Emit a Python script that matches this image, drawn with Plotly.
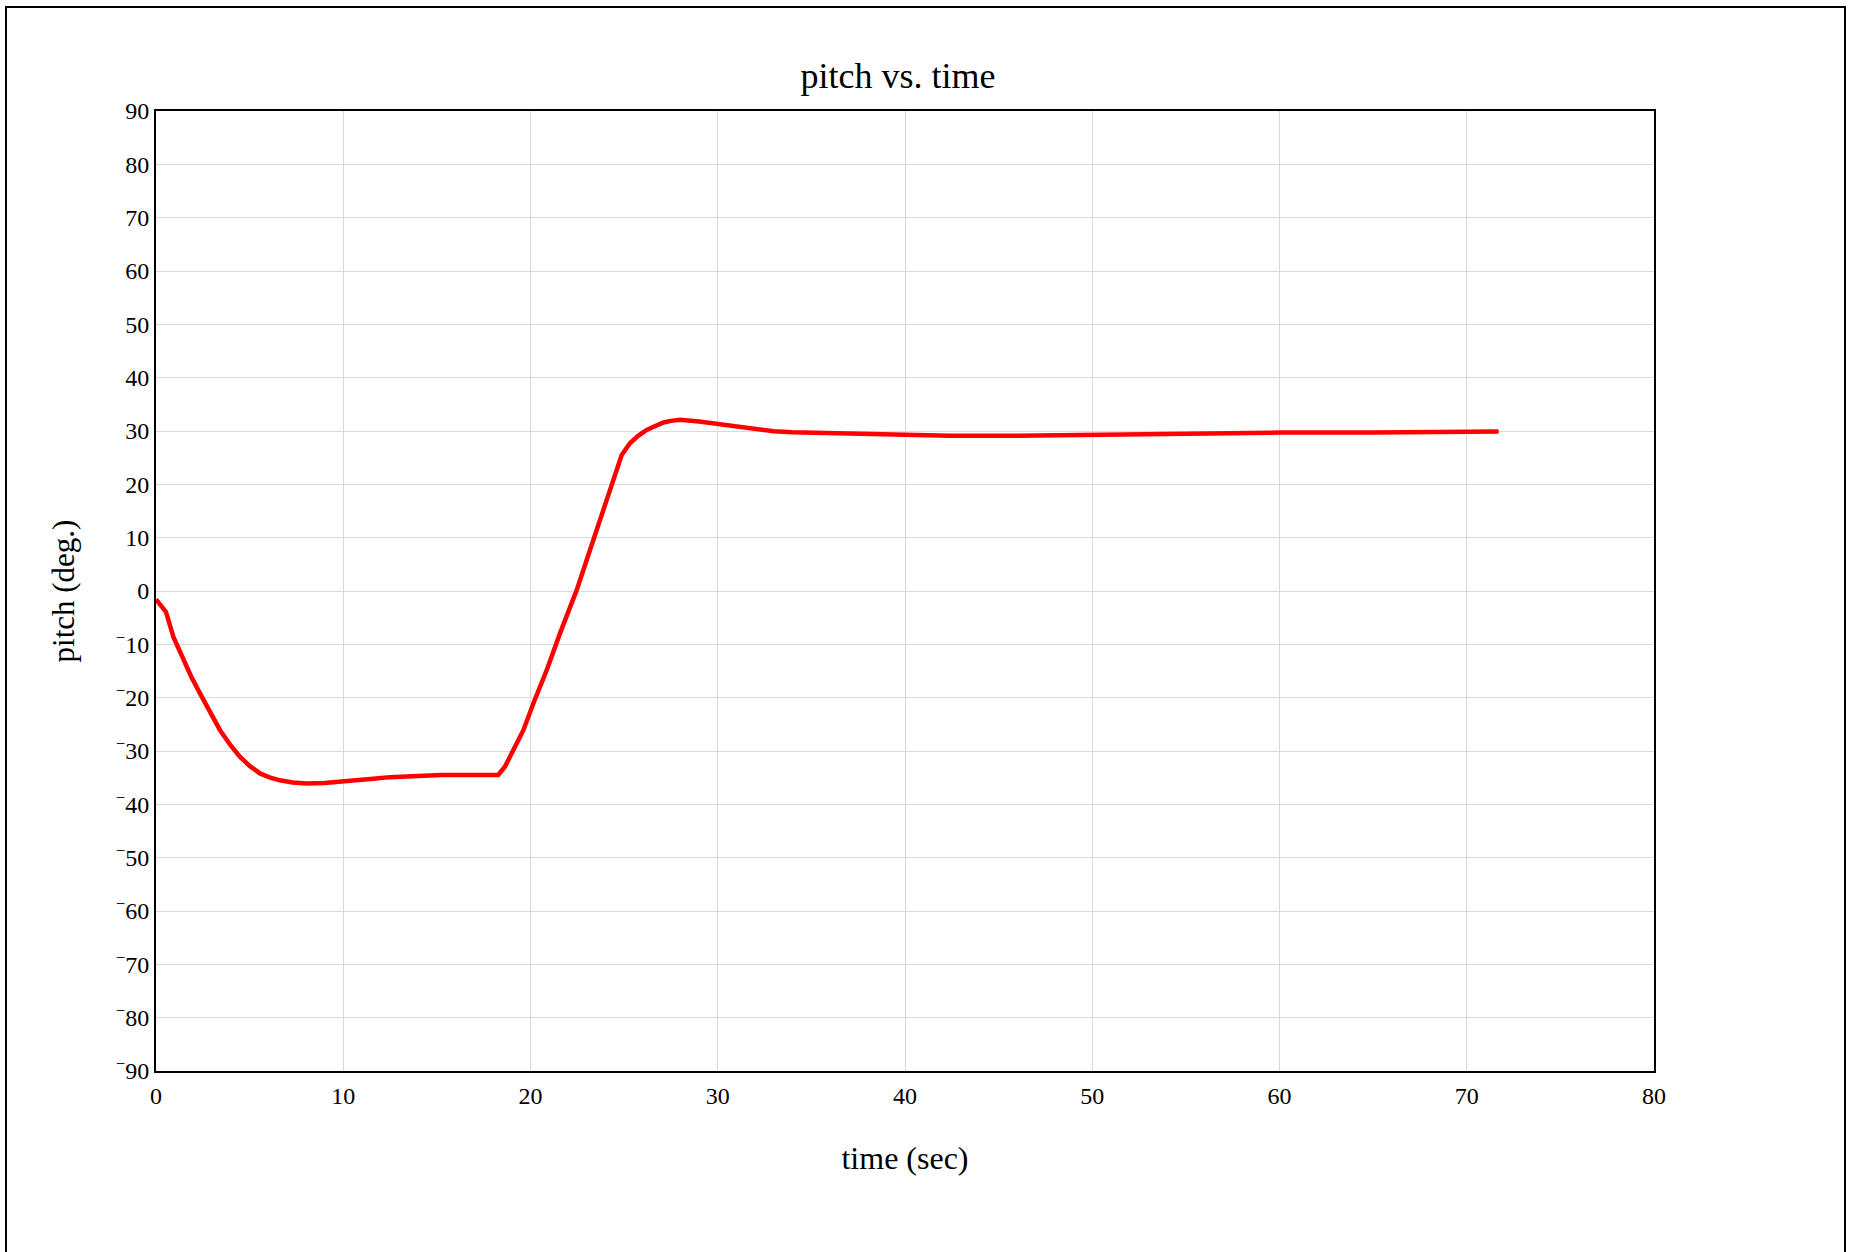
import plotly.graph_objects as go

# time (sec) and pitch (deg.)
time_sec = [0.0, 0.53, 0.93, 1.46, 1.9, 2.35, 2.9, 3.42, 4.0, 4.49, 5.0, 5.55, 6.1, 6.62,
            7.3, 8.05, 9.0, 9.83, 10.7, 11.6, 12.5, 13.4, 15.2, 17.0, 18.28, 18.64,
            19.08, 19.62, 20.15, 20.87, 21.58, 22.47, 23.36, 24.07, 24.87, 25.31,
            25.75, 26.2, 26.65, 27.1, 27.5, 27.98, 29.0, 30.0, 31.0, 32.0, 33.0, 34.0,
            35.0, 37.0, 40.0, 42.4, 46.0, 50.0, 55.0, 60.0, 65.0, 71.7]
pitch_deg = [-1.6, -3.9, -8.6, -12.9, -16.2, -19.2, -22.8, -26.1, -29.0, -31.1, -32.8, -34.2,
             -35.0, -35.5, -35.9, -36.1, -36.0, -35.8, -35.5, -35.2, -34.9, -34.7, -34.5,
             -34.5, -34.5, -32.9, -29.8, -26.1, -21.1, -14.8, -7.9, 0.2, 9.6, 17.1, 25.5,
             27.7, 29.1, 30.2, 31.0, 31.6, 31.9, 32.1, 31.8, 31.3, 30.8, 30.3, 29.95, 29.75,
             29.65, 29.6, 29.3, 29.1, 29.1, 29.3, 29.6, 29.7, 29.7, 29.9]

x_ticks = [0, 10, 20, 30, 40, 50, 60, 70, 80]
y_ticks = [90, 80, 70, 60, 50, 40, 30, 20, 10, 0, -10, -20, -30, -40, -50, -60, -70, -80, -90]
y_tick_labels = ["90", "80", "70", "60", "50", "40", "30", "20", "10", "0",
                 "<sup>\u2212</sup>10", "<sup>\u2212</sup>20", "<sup>\u2212</sup>30",
                 "<sup>\u2212</sup>40", "<sup>\u2212</sup>50", "<sup>\u2212</sup>60",
                 "<sup>\u2212</sup>70", "<sup>\u2212</sup>80", "<sup>\u2212</sup>90"]

W, H = 1849, 1252
L, R, T, B = 156, 1654, 111, 1071

fig = go.Figure()
fig.add_trace(go.Scatter(x=time_sec, y=pitch_deg, mode="lines",
                         line=dict(color="#ff0000", width=4.5), showlegend=False))

font = "Liberation Serif, Times New Roman, serif"
fig.update_layout(
    width=W, height=H,
    margin=dict(l=L, r=W - R, t=T, b=H - B, pad=0),
    paper_bgcolor="white", plot_bgcolor="white",
    font=dict(family=font, color="black", size=24),
    title=dict(text="pitch vs. time", x=0.4953, xref="paper", xanchor="center",
               y=1 - 75 / H, yanchor="middle", font=dict(size=36, family=font)),
    xaxis=dict(range=[0, 80], tickvals=x_ticks, showgrid=True, gridcolor="#d9d9d9",
               gridwidth=1.3, showline=True, linecolor="black", linewidth=2, mirror=True,
               zeroline=False, ticks="outside", ticklen=2, tickcolor="rgba(0,0,0,0)",
               tickfont=dict(size=24, family=font),
               title=dict(text="time (sec)", font=dict(size=32, family=font), standoff=39)),
    yaxis=dict(range=[-90, 90], tickvals=y_ticks, ticktext=y_tick_labels, showgrid=True,
               gridcolor="#d9d9d9", gridwidth=1.3, showline=True, linecolor="black",
               linewidth=2, mirror=True, zeroline=False, ticks="outside", ticklen=0,
               tickcolor="rgba(0,0,0,0)", tickfont=dict(size=24, family=font),
               title=dict(text="pitch (deg.)", font=dict(size=31, family=font), standoff=32)),
)

pw, ph = R - L, B - T
fig.add_shape(type="rect", xref="paper", yref="paper",
              x0=(6 - L) / pw, x1=(1845 - L) / pw,
              y0=(B - 1262) / ph, y1=(B - 7) / ph,
              line=dict(color="black", width=2), fillcolor="rgba(0,0,0,0)", layer="above")

fig.write_html("out.html")
